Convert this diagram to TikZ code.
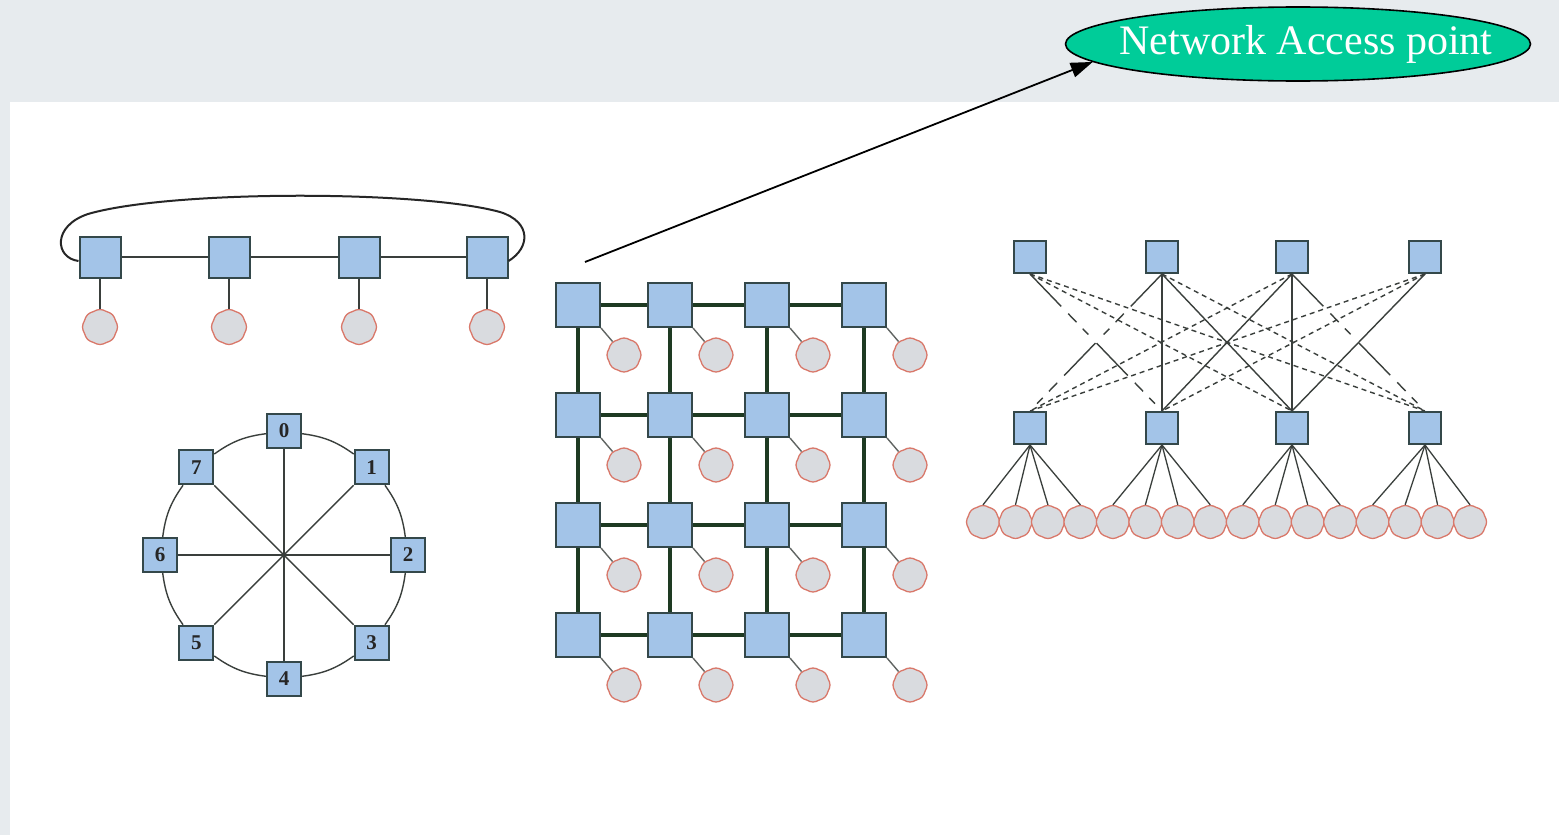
\documentclass[tikz,border=0pt]{standalone}
\usepackage{fontspec}
\setmainfont{Liberation Serif}
\usetikzlibrary{arrows.meta,shapes.geometric,shapes.symbols}
\definecolor{pagegray}{HTML}{E7EBEE}
\definecolor{switchblue}{HTML}{A3C4E8}
\definecolor{switchedge}{HTML}{34484A}
\definecolor{linkgreen}{HTML}{1E3A22}
\definecolor{wiregray}{HTML}{3A3F3C}
\definecolor{hostfill}{HTML}{D9DBDF}
\definecolor{hostedge}{HTML}{D9786A}
\definecolor{apgreen}{HTML}{00CC99}
\begin{document}
\begin{tikzpicture}[x=1pt,y=-1pt,
  switch/.style={rectangle, draw=switchedge, fill=switchblue, line width=2pt,
                 minimum size=#1, inner sep=0pt},
  switch/.default=40pt,
  host/.style={cloud, cloud puffs=8, cloud puff arc=70, aspect=1,
               draw=hostedge, fill=hostfill, line width=1.3pt,
               minimum width=#1, minimum height=#1, inner sep=0pt},
  host/.default=32pt,
  octsw/.style={switch=34pt, font=\bfseries\fontsize{21}{21}\selectfont, text=black!85},
  ringlink/.style={draw=wiregray, line width=2.2pt},
  stub/.style={draw=wiregray, line width=2.2pt},
  meshlink/.style={draw=linkgreen, line width=4.5pt},
  meshstub/.style={draw=wiregray!80, line width=1.4pt},
  octlink/.style={draw=wiregray, line width=1.4pt},
  fly/.style={draw=wiregray, line width=1.4pt},
  flydash/.style={fly, dash pattern=on 5pt off 4pt},
  flybroken/.style={fly, dash pattern=on 45pt off 10pt on 12pt off 9pt on 8pt off 12pt},
  fan/.style={draw=wiregray, line width=1.3pt},
  pointer/.style={-{Triangle[length=22pt,width=15pt]}, line width=1.8pt, draw=black},
]
% page and content panel
\fill[pagegray] (0,0) rectangle (1559,835);
\fill[white] (10,102) rectangle (1559,835);
\useasboundingbox (0,0) rectangle (1559,835);

% ---------- ring of four switches ----------
\foreach \i/\x in {0/100,1/229,2/359,3/487} {
  \node[switch=41pt] (r\i) at (\x,257) {};
  \node[host=35pt] (rh\i) at (\x,327) {};
  \draw[stub] (r\i) -- (rh\i);
}
\draw[ringlink] (r0) -- (r1) (r1) -- (r2) (r2) -- (r3);
\draw[draw=black!85, line width=2pt]
  ([yshift=-4pt]r0.west) .. controls (55,258) and (52,226) .. (88,214)
  .. controls (170,190) and (420,190) .. (500,212)
  .. controls (532,222) and (530,248) .. ([yshift=-4pt]r3.east);

% ---------- octagon (chordal ring) ----------
\foreach \k in {0,...,7}
  \node[octsw] (o\k) at ({284+124*sin(45*\k)},{555-124*cos(45*\k)}) {\k};
\foreach \k in {0,...,7} {
  \pgfmathtruncatemacro{\nx}{mod(\k+1,8)}
  \draw[octlink] (o\k) to[bend left=14] (o\nx);
}
\foreach \a/\b in {0/4,1/5,2/6,3/7}
  \draw[octlink] (o\a) -- (o\b);

% ---------- 4x4 mesh ----------
\foreach \c/\x in {0/578,1/670,2/767,3/864}
  \foreach \r/\y in {0/305,1/415,2/525,3/635} {
    \node[switch=44pt] (m\r\c) at (\x,\y) {};
    \node[host=34pt] (mh\r\c) at (\x+46,\y+50) {};
  }
\foreach \r in {0,...,3} {
  \draw[meshlink] (m\r0) -- (m\r1) (m\r1) -- (m\r2) (m\r2) -- (m\r3);
  \draw[meshlink] (m0\r) -- (m1\r) (m1\r) -- (m2\r) (m2\r) -- (m3\r);
}
\foreach \r in {0,...,3}
  \foreach \c in {0,...,3} {
    \draw[meshstub] (m\r\c.south east) -- (mh\r\c);
    \node[switch=44pt] at (m\r\c) {};
  }

% ---------- two-level switched network ----------
\foreach \i/\x in {0/1030,1/1162,2/1292,3/1425} {
  \node[switch=32pt] (t\i) at (\x,257) {};
  \node[switch=32pt] (b\i) at (\x,428) {};
}
\foreach \k in {0,...,15}
  \node[host=33pt] (fh\k) at ({983+32.47*\k},522) {};
\foreach \k in {0,...,15} {
  \pgfmathtruncatemacro{\g}{int(\k/4)}
  \draw[fan] (b\g.south) -- (fh\k.north);
}
% solid uplinks
\foreach \a/\b in {1/1,2/2,1/2,2/1,3/2}
  \draw[fly] (t\a.south) -- (b\b.north);
% partly drawn uplinks
\foreach \a/\b in {0/1,1/0,2/3}
  \draw[flybroken] (t\a.south) -- (b\b.north);
% dashed uplinks
\foreach \a/\b in {0/2,0/3,1/3,2/0,3/0,3/1}
  \draw[flydash] (t\a.south) -- (b\b.north);

% ---------- access point ----------
\node[ellipse, draw=black, line width=1.6pt, fill=apgreen,
      minimum width=465pt, minimum height=74pt, inner sep=0pt,
      label={[text=white, font=\fontsize{42}{42}\selectfont, xshift=8pt]center:Network Access point}]
      (ap) at (1298,44) {};
\coordinate (src) at (585,262);
\draw[pointer] (src) -- (ap.185);
\end{tikzpicture}
\end{document}
